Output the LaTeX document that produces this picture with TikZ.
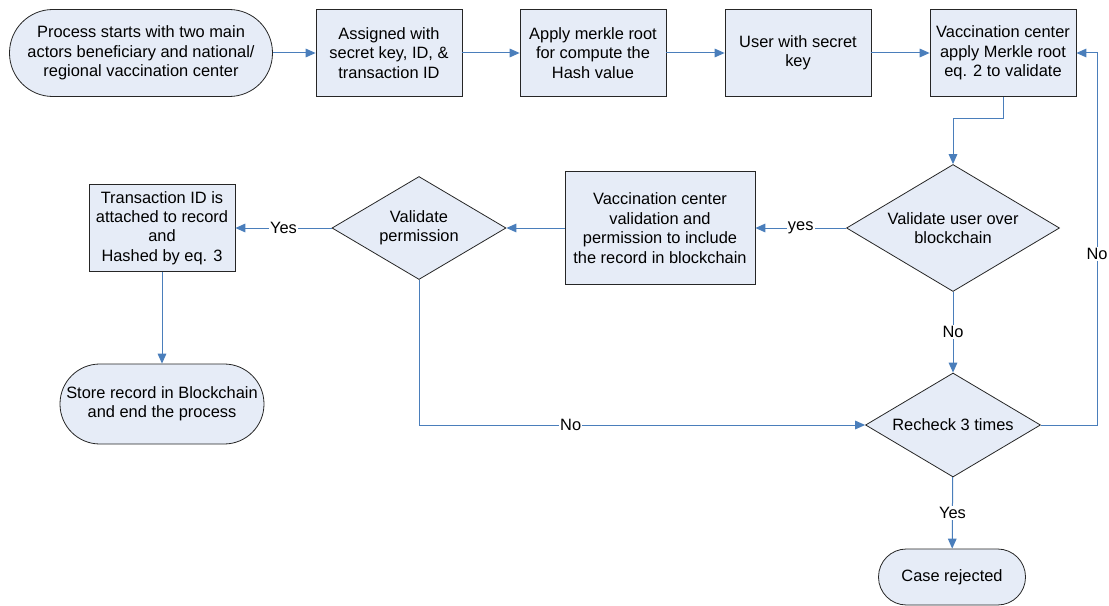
\documentclass[tikz,border=0pt]{standalone}
\usepackage{fontspec}
\setmainfont{Liberation Sans}
\usetikzlibrary{shapes.geometric, arrows.meta}
\definecolor{boxfill}{RGB}{230,236,247}
\definecolor{flowblue}{RGB}{74,126,187}

\begin{document}
\begin{tikzpicture}[x=0.75pt, y=-0.75pt,
  font=\fontsize{12.3}{14.6}\selectfont,
  box/.style={draw=black!85, fill=boxfill, line width=0.6pt, align=center, minimum width=109.5pt, minimum height=65.25pt, inner sep=1pt},
  term/.style={rectangle, rounded corners=#1, draw=black!85, fill=boxfill, line width=0.6pt, align=center, inner sep=1pt},
  decision/.style={diamond, shape aspect=1.68, draw=black!85, fill=boxfill, line width=0.6pt, align=center, inner sep=0pt},
  flow/.style={draw=flowblue, line width=0.75pt, -{Triangle[length=7.5pt,width=6.5pt]}},
  lbl/.style={fill=white, inner sep=1pt}]
\useasboundingbox (0,0) rectangle (1109,606);
\node[term=32.5pt, minimum width=197.25pt, minimum height=65.25pt] (start) at (141,53) {Process starts with two main\\actors beneficiary and national/\\regional vaccination center};
\node[box] (assigned) at (389,53) {Assigned with\\secret key, ID, \&\\transaction ID};
\node[box] (merkle) at (593,53) {Apply merkle root\\for compute the\\Hash value};
\node[box] (user) at (798,53) {User with secret\\key};
\node[box] (vcenter) at (1003,53) {Vaccination center\\apply Merkle root\\eq. 2 to validate};
\node[decision, minimum width=159.75pt, minimum height=95.25pt] (valid) at (953,228) {Validate user over\\blockchain};
\node[box, minimum width=142.5pt, minimum height=84.75pt] (include) at (660,228) {Vaccination center\\validation and\\permission to include\\the record in blockchain};
\node[decision, minimum width=130.5pt, minimum height=77.25pt] (perm) at (419,228) {Validate\\permission};
\node[box] (trans) at (162,228) {Transaction ID is\\attached to record\\and\\Hashed by eq. 3};
\node[term=29.9pt, minimum width=153pt, minimum height=60pt] (store) at (162,404) {Store record in Blockchain\\and end the process};
\node[decision, minimum width=131.25pt, minimum height=78pt] (recheck) at (953,425) {Recheck 3 times};
\node[term=20.9pt, minimum width=110.25pt, minimum height=42pt] (rejected) at (952,577) {Case rejected};
\coordinate (back) at (1097,425);

\draw[flow] (start) -- (assigned);
\draw[flow] (assigned) -- (merkle);
\draw[flow] (merkle) -- (user);
\draw[flow] (user) -- (vcenter);
\draw[flow] (vcenter.south) -- ++(0,22) -| (valid.north);
\draw[flow] (valid) -- node[lbl] {yes} (include);
\draw[flow] (include) -- (perm);
\draw[flow] (perm) -- node[lbl] {Yes} (trans);
\draw[flow] (trans) -- (store);
\draw[flow] (perm.south) |- (recheck.west) node[lbl, pos=0.67] {No};
\draw[flow] (valid) -- node[lbl] {No} (recheck);
\draw[flow] (recheck.east) -- (back) |- (vcenter.east) node[lbl, pos=0.23] {No};
\draw[flow] (recheck) -- node[lbl] {Yes} (rejected);
\end{tikzpicture}
\end{document}
